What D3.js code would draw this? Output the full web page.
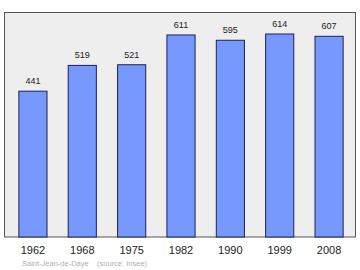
<!DOCTYPE html>
<html>
<head>
<meta charset="utf-8">
<script src="https://cdn.jsdelivr.net/npm/d3@7"></script>
<style>
  body { margin: 0; background: #fff; }
  svg text { font-family: "Liberation Sans", Arial, sans-serif; }
</style>
</head>
<body>
<script>
// population by census year
const years = ["1962", "1968", "1975", "1982", "1990", "1999", "2008"];
const population = [441, 519, 521, 611, 595, 614, 607];
const place = "Saint-Jean-de-Daye";
const source = "(source: Insee)";

const width = 360, height = 270;
const frame = { left: 4.5, top: 12.5, right: 355.5, bottom: 237 };

const svg = d3.select("body")
  .append("svg")
  .attr("width", width)
  .attr("height", height);

// plot background + frame
svg.append("rect")
  .attr("x", frame.left)
  .attr("y", frame.top)
  .attr("width", frame.right - frame.left)
  .attr("height", frame.bottom - frame.top)
  .attr("fill", "#eeeeee")
  .attr("stroke", "#555555")
  .attr("stroke-width", 1);

const x = d3.scaleBand()
  .domain(years)
  .range([8.5, 353.5])
  .paddingInner(0.43)
  .paddingOuter(0.21);

const y = d3.scaleLinear()
  .domain([0, 679])
  .range([frame.bottom, frame.top]);

svg.selectAll("rect.bar")
  .data(years)
  .enter()
  .append("rect")
  .attr("class", "bar")
  .attr("x", d => x(d))
  .attr("y", (d, i) => y(population[i]))
  .attr("width", x.bandwidth())
  .attr("height", (d, i) => frame.bottom - y(population[i]))
  .attr("fill", "#7799ff")
  .attr("stroke", "#1a2250")
  .attr("stroke-width", 1);

// value labels
svg.selectAll("text.val")
  .data(years)
  .enter()
  .append("text")
  .attr("class", "val")
  .attr("x", d => x(d) + x.bandwidth() / 2)
  .attr("y", (d, i) => y(population[i]) - 7)
  .attr("text-anchor", "middle")
  .attr("font-size", "9px")
  .attr("fill", "#222")
  .text((d, i) => population[i]);

// x axis labels
const xAxis = svg.append("g")
  .attr("transform", `translate(0,${frame.bottom})`)
  .call(d3.axisBottom(x).tickSize(0).tickPadding(9));
xAxis.select(".domain").remove();
xAxis.selectAll("text")
  .attr("font-size", "11px")
  .attr("font-family", "Liberation Sans, Arial, sans-serif")
  .attr("fill", "#222");

// footer
svg.append("text")
  .attr("x", 22)
  .attr("y", 265.5)
  .attr("font-size", "7.5px")
  .attr("fill", "#b0b0b0")
  .text(place + "\u00a0\u00a0\u00a0\u00a0" + source);
</script>
</body>
</html>
